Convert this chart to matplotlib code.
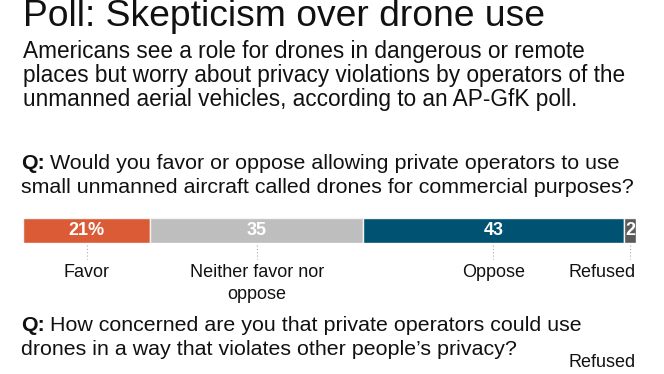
import numpy as np
import matplotlib.pyplot as plt
from matplotlib import transforms

plt.rcParams['font.family'] = ['Liberation Sans', 'DejaVu Sans']

W, H = 664, 374

title = "Poll: Skepticism over drone use"
subtitle = ["Americans see a role for drones in dangerous or remote",
            "places but worry about privacy violations by operators of the",
            "unmanned aerial vehicles, according to an AP-GfK poll."]
q1 = ["Would you favor or oppose allowing private operators to use",
      "small unmanned aircraft called drones for commercial purposes?"]
q2 = ["How concerned are you that private operators could use",
      "drones in a way that violates other people\u2019s privacy?"]

categories = ["Favor", "Neither favor nor\noppose", "Oppose", "Refused"]
values = [21, 35, 43, 2]
value_labels = ["21%", "35", "43", "2"]
colors = ["#DA5B35", "#BEBEBE", "#005272", "#5A5A5A"]

fig = plt.figure(figsize=(W / 100, H / 100), dpi=100)

def fy(p):
    return 1 - p / H

def fx(p):
    return p / W

# headline text
fig.text(fx(23), fy(26), title, fontsize=26.8, va='baseline', color='#111111')
for i, line in enumerate(subtitle):
    fig.text(fx(23), fy(58 + 24 * i), line, fontsize=16.3, va='baseline', color='#111111')

def question(lines, y0):
    fig.text(fx(21), fy(y0), "Q:", fontsize=15.4, fontweight='bold', va='baseline', color='#111111')
    fig.text(fx(50), fy(y0), lines[0], fontsize=15.4, va='baseline', color='#111111')
    fig.text(fx(21), fy(y0 + 24), lines[1], fontsize=15.4, va='baseline', color='#111111')

question(q1, 169)
question(q2, 331)

# stacked bar
bar_left, bar_right, bar_top, bar_bot = 23, 636, 218, 243
ax = fig.add_axes([fx(bar_left), fy(bar_bot), fx(bar_right - bar_left), (bar_bot - bar_top) / H])
lefts = np.concatenate([[0], np.cumsum(values)[:-1]])
ax.barh([0], values, left=lefts, height=1, color=colors, edgecolor='#F4F4F4', linewidth=1)
ax.set_xlim(0, sum(values))
ax.set_ylim(-0.5, 0.5)
ax.axis('off')

centers = lefts + np.array(values) / 2
for c, lab in zip(centers, value_labels):
    ax.text(c, 0, lab, ha='center', va='center', color='white', fontsize=13, fontweight='bold')

tr = transforms.blended_transform_factory(ax.transData, fig.transFigure)
for i, (c, cat) in enumerate(zip(centers, categories)):
    ax.plot([c, c], [fy(245), fy(259)], transform=tr, color='#AAAAAA', lw=0.8,
            ls=(0, (1, 2)), clip_on=False)
    for j, part in enumerate(cat.split('\n')):
        if i == len(categories) - 1:
            ax.text(sum(values), fy(277 + 22 * j), part, transform=tr, ha='right',
                    va='baseline', fontsize=13, color='#111111')
        else:
            ax.text(c, fy(277 + 22 * j), part, transform=tr, ha='center',
                    va='baseline', fontsize=13, color='#111111')

# second question starts its labels below the cut
ax.text(sum(values), fy(367), "Refused", transform=tr, ha='right', va='baseline',
        fontsize=13, color='#111111')

fig.savefig("out.png", dpi=100)
